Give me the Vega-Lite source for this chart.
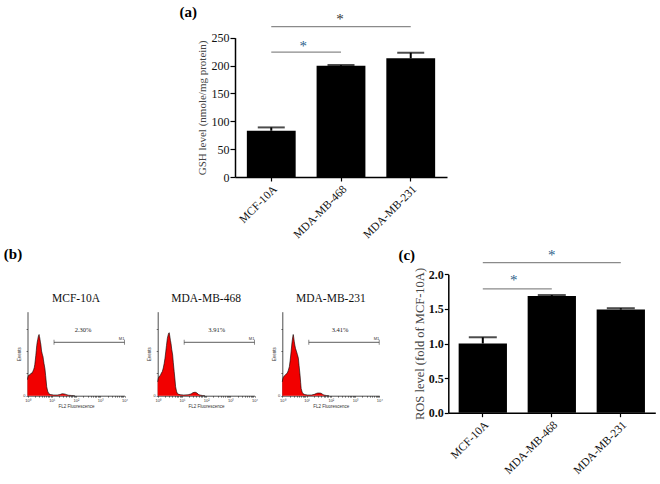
{
  "$schema": "https://vega.github.io/schema/vega-lite/v6.json",
  "width": 660,
  "height": 484,
  "padding": 0,
  "autosize": {"type": "none"},
  "background": "white",
  "config": {
    "view": {"stroke": null},
    "axis": {"grid": false, "domainColor": "#000", "tickColor": "#000", "labelFont": "Liberation Serif", "titleFont": "Liberation Serif", "labelColor": "#111", "titleColor": "#444", "titleFontWeight": "normal", "labelOverlap": false, "labelFlush": false, "labelBound": false},
    "text": {"font": "Liberation Serif"}
  },
  "datasets": {
    "gsh": [
      {"cell": "MCF-10A", "gsh": 83, "upper": 89},
      {"cell": "MDA-MB-468", "gsh": 199.5, "upper": 201},
      {"cell": "MDA-MB-231", "gsh": 213, "upper": 223}
    ],
    "gshSig": [
      {"from": "MCF-10A", "to": "MDA-MB-468", "level": 224, "star": "*", "starLevel": 236, "pair": "near"},
      {"from": "MCF-10A", "to": "MDA-MB-231", "level": 270, "star": "*", "starLevel": 282.7, "pair": "far"}
    ],
    "ros": [
      {"cell": "MCF-10A", "ros": 1.0, "upper": 1.09},
      {"cell": "MDA-MB-468", "ros": 1.685, "upper": 1.70},
      {"cell": "MDA-MB-231", "ros": 1.49, "upper": 1.51}
    ],
    "rosSig": [
      {"from": "MCF-10A", "to": "MDA-MB-468", "level": 1.788, "star": "*", "starLevel": 1.918, "pair": "near"},
      {"from": "MCF-10A", "to": "MDA-MB-231", "level": 2.168, "star": "*", "starLevel": 2.279, "pair": "far"}
    ],
    "h1": [
      {"fl2": 1, "events": 36}, {"fl2": 1.04, "events": 42}, {"fl2": 1.1, "events": 45}, {"fl2": 1.18, "events": 47}, {"fl2": 1.26, "events": 46}, {"fl2": 1.35, "events": 49}, {"fl2": 1.45, "events": 51}, {"fl2": 1.55, "events": 50}, {"fl2": 1.65, "events": 54}, {"fl2": 1.78, "events": 58}, {"fl2": 1.9, "events": 63}, {"fl2": 2.0, "events": 70}, {"fl2": 2.1, "events": 80}, {"fl2": 2.2, "events": 90}, {"fl2": 2.3, "events": 101}, {"fl2": 2.4, "events": 112}, {"fl2": 2.52, "events": 120}, {"fl2": 2.63, "events": 125}, {"fl2": 2.75, "events": 131}, {"fl2": 2.88, "events": 135}, {"fl2": 3.0, "events": 137}, {"fl2": 3.1, "events": 133}, {"fl2": 3.24, "events": 128}, {"fl2": 3.4, "events": 120}, {"fl2": 3.55, "events": 115}, {"fl2": 3.8, "events": 100}, {"fl2": 4.0, "events": 95}, {"fl2": 4.15, "events": 91}, {"fl2": 4.35, "events": 88}, {"fl2": 4.55, "events": 80}, {"fl2": 4.8, "events": 72}, {"fl2": 5.25, "events": 60}, {"fl2": 5.6, "events": 45}, {"fl2": 6.2, "events": 20}, {"fl2": 6.8, "events": 10}, {"fl2": 7.6, "events": 4.5}, {"fl2": 9, "events": 2.5}, {"fl2": 12, "events": 1.5}, {"fl2": 17, "events": 1.5}, {"fl2": 22, "events": 2.5}, {"fl2": 25, "events": 4}, {"fl2": 28, "events": 4.5}, {"fl2": 32, "events": 4}, {"fl2": 36, "events": 3.5}, {"fl2": 42, "events": 2}, {"fl2": 50, "events": 1}, {"fl2": 65, "events": 0.5}, {"fl2": 90, "events": 0}
    ],
    "h2": [
      {"fl2": 1, "events": 31}, {"fl2": 1.05, "events": 38}, {"fl2": 1.12, "events": 42}, {"fl2": 1.2, "events": 44}, {"fl2": 1.3, "events": 46}, {"fl2": 1.4, "events": 50}, {"fl2": 1.55, "events": 54}, {"fl2": 1.7, "events": 62}, {"fl2": 1.85, "events": 72}, {"fl2": 2.0, "events": 84}, {"fl2": 2.15, "events": 98}, {"fl2": 2.3, "events": 112}, {"fl2": 2.5, "events": 128}, {"fl2": 2.7, "events": 136}, {"fl2": 2.85, "events": 140}, {"fl2": 3.0, "events": 141}, {"fl2": 3.15, "events": 134}, {"fl2": 3.35, "events": 124}, {"fl2": 3.55, "events": 117}, {"fl2": 3.8, "events": 104}, {"fl2": 4.15, "events": 91}, {"fl2": 4.4, "events": 75}, {"fl2": 4.8, "events": 54}, {"fl2": 5.2, "events": 35}, {"fl2": 5.5, "events": 20}, {"fl2": 6.0, "events": 10}, {"fl2": 6.5, "events": 5}, {"fl2": 7.5, "events": 3}, {"fl2": 9, "events": 2}, {"fl2": 12, "events": 1.5}, {"fl2": 18, "events": 2}, {"fl2": 24, "events": 4}, {"fl2": 28, "events": 6.5}, {"fl2": 32, "events": 7.5}, {"fl2": 37, "events": 7.5}, {"fl2": 42, "events": 6}, {"fl2": 48, "events": 3}, {"fl2": 55, "events": 1.5}, {"fl2": 70, "events": 0.5}, {"fl2": 90, "events": 0}
    ],
    "h3": [
      {"fl2": 1, "events": 31}, {"fl2": 1.05, "events": 38}, {"fl2": 1.12, "events": 42}, {"fl2": 1.2, "events": 44}, {"fl2": 1.3, "events": 46}, {"fl2": 1.4, "events": 48}, {"fl2": 1.58, "events": 50}, {"fl2": 1.75, "events": 56}, {"fl2": 1.95, "events": 65}, {"fl2": 2.1, "events": 78}, {"fl2": 2.3, "events": 98}, {"fl2": 2.5, "events": 118}, {"fl2": 2.7, "events": 132}, {"fl2": 2.82, "events": 137}, {"fl2": 2.95, "events": 131}, {"fl2": 3.1, "events": 122}, {"fl2": 3.3, "events": 113}, {"fl2": 3.5, "events": 106}, {"fl2": 3.9, "events": 98}, {"fl2": 4.2, "events": 92}, {"fl2": 4.6, "events": 84}, {"fl2": 4.9, "events": 68}, {"fl2": 5.4, "events": 46}, {"fl2": 5.7, "events": 30}, {"fl2": 6.0, "events": 16}, {"fl2": 6.6, "events": 8}, {"fl2": 7.2, "events": 4.5}, {"fl2": 8.5, "events": 2.5}, {"fl2": 11, "events": 1.5}, {"fl2": 16, "events": 1.5}, {"fl2": 21, "events": 3}, {"fl2": 25, "events": 5}, {"fl2": 29, "events": 6}, {"fl2": 34, "events": 6}, {"fl2": 40, "events": 5.5}, {"fl2": 45, "events": 3.5}, {"fl2": 52, "events": 1.5}, {"fl2": 65, "events": 0.5}, {"fl2": 85, "events": 0}
    ],
    "g1": [{"cell": "MCF-10A", "gate": "M1", "pct": "2.30%", "start": 12.4, "end": 9900, "level": 119.5}],
    "g2": [{"cell": "MDA-MB-468", "gate": "M1", "pct": "3.91%", "start": 12.4, "end": 9900, "level": 119.5}],
    "g3": [{"cell": "MDA-MB-231", "gate": "M1", "pct": "3.41%", "start": 12.4, "end": 9900, "level": 119.5}]
  },
  "resolve": {"scale": {"x": "independent", "y": "independent"}, "axis": {"x": "independent", "y": "independent"}},
  "layer": [
    {
      "layer": [
        {
          "data": {"name": "gsh"},
          "mark": {"type": "bar", "color": "#000"},
          "encoding": {
            "x": {"field": "cell", "type": "nominal", "title": null,
              "scale": {"domain": ["MCF-10A", "MDA-MB-468", "MDA-MB-231"], "range": [235, 447], "paddingInner": 0.3, "paddingOuter": 0.17},
              "axis": {"orient": "bottom", "offset": -307, "labelAngle": -45, "labelFont": "Liberation Serif", "labelFontSize": 11.5, "labelColor": "#111", "tickSize": 4, "tickWidth": 1.2, "domainWidth": 1.5, "labelPadding": 2}},
            "y": {"field": "gsh", "type": "quantitative", "title": "GSH level (nmole/mg protein)",
              "scale": {"domain": [0, 250], "range": [177, 37.7], "nice": false},
              "axis": {"orient": "left", "offset": -235, "values": [0, 50, 100, 150, 200, 250], "labelFont": "Liberation Serif", "titleFont": "Liberation Serif", "labelFontSize": 12, "titleFontSize": 11, "tickSize": 5, "tickWidth": 1.2, "domainWidth": 1.5, "labelPadding": 1, "titlePadding": 4}}
          }
        },
        {
          "data": {"name": "gsh"},
          "mark": {"type": "rule", "color": "#000", "strokeWidth": 2},
          "encoding": {
            "x": {"field": "cell", "type": "nominal", "title": null},
            "y": {"field": "gsh", "type": "quantitative", "title": "GSH level (nmole/mg protein)"},
            "y2": {"field": "upper"}
          }
        },
        {
          "data": {"name": "gsh"},
          "mark": {"type": "tick", "color": "#000", "size": 27, "thickness": 2},
          "encoding": {
            "x": {"field": "cell", "type": "nominal", "title": null},
            "y": {"field": "upper", "type": "quantitative", "title": "GSH level (nmole/mg protein)"}
          }
        },
        {
          "data": {"name": "gshSig"},
          "mark": {"type": "rule", "color": "#8a8a8a", "strokeWidth": 1.2},
          "encoding": {
            "x": {"field": "from", "type": "nominal", "title": null},
            "x2": {"field": "to"},
            "y": {"field": "level", "type": "quantitative", "title": "GSH level (nmole/mg protein)"}
          }
        },
        {
          "data": {"name": "gshSig"},
          "transform": [{"filter": "datum.pair == 'near'"}],
          "mark": {"type": "text", "font": "Liberation Serif", "fontSize": 15, "baseline": "middle", "dx": 32, "color": "#2b5f8a"},
          "encoding": {
            "x": {"field": "from", "type": "nominal", "title": null},
            "y": {"field": "starLevel", "type": "quantitative", "title": "GSH level (nmole/mg protein)"},
            "text": {"field": "star"}
          }
        },
        {
          "data": {"name": "gshSig"},
          "transform": [{"filter": "datum.pair == 'far'"}],
          "mark": {"type": "text", "font": "Liberation Serif", "fontSize": 15, "baseline": "middle", "dx": -1, "color": "#333"},
          "encoding": {
            "x": {"datum": "MDA-MB-468", "type": "nominal"},
            "y": {"field": "starLevel", "type": "quantitative", "title": "GSH level (nmole/mg protein)"},
            "text": {"field": "star"}
          }
        },
        {
          "data": {"values": [{"panel": "(a)"}]},
          "mark": {"type": "text", "font": "Liberation Serif", "fontSize": 15, "fontWeight": "bold", "baseline": "middle", "dx": -83, "color": "#000"},
          "encoding": {
            "x": {"datum": "MCF-10A", "type": "nominal"},
            "y": {"datum": 296, "type": "quantitative"},
            "text": {"field": "panel"}
          }
        }
      ]
    },
    {
      "layer": [
        {
          "data": {"name": "h1"},
          "mark": {"type": "area", "color": "#f20000", "opacity": 1, "orient": "vertical", "line": {"color": "#000", "strokeWidth": 0.6}},
          "encoding": {
            "x": {"field": "fl2", "type": "quantitative", "title": "FL2 Fluorescence",
              "scale": {"type": "log", "domain": [1, 10000], "range": [27.5, 124.5], "nice": false},
              "axis": {"orient": "bottom", "offset": -88.3, "values": [1,2,3,4,5,6,7,8,9,10,20,30,40,50,60,70,80,90,100,200,300,400,500,600,700,800,900,1000,2000,3000,4000,5000,6000,7000,8000,9000,10000], "labelExpr": "datum.value == 1 ? '10⁰' : datum.value == 10 ? '10¹' : datum.value == 100 ? '10²' : datum.value == 1000 ? '10³' : datum.value == 10000 ? '10⁴' : ''", "labelFont": "Liberation Sans", "labelFontSize": 4, "labelPadding": 1, "labelColor": "#333", "titleFont": "Liberation Sans", "titleFontSize": 4.5, "titleColor": "#333", "titlePadding": 1, "tickSize": 1.5, "tickWidth": 0.5, "domainWidth": 0.7}},
            "y": {"field": "events", "type": "quantitative", "title": "Events", "stack": null,
              "scale": {"domain": [0, 188], "range": [395.7, 311.7], "nice": false},
              "axis": {"orient": "left", "offset": -27.5, "values": [0, 50, 100, 150], "labelExpr": "datum.value == 0 ? '0' : ''", "labelFont": "Liberation Sans", "labelFontSize": 4, "labelPadding": 1, "labelColor": "#333", "titleFont": "Liberation Sans", "titleFontSize": 4.5, "titleColor": "#333", "titlePadding": 1.5, "tickSize": 1.5, "tickWidth": 0.5, "domainWidth": 0.7}}
          }
        },
        {
          "data": {"name": "g1"},
          "mark": {"type": "rule", "color": "#333", "strokeWidth": 0.8},
          "encoding": {
            "x": {"field": "start", "type": "quantitative", "title": "FL2 Fluorescence"},
            "x2": {"field": "end"},
            "y": {"field": "level", "type": "quantitative", "title": "Events"}
          }
        },
        {
          "data": {"name": "g1"},
          "mark": {"type": "tick", "orient": "vertical", "color": "#333", "size": 5, "thickness": 0.8},
          "encoding": {
            "x": {"field": "start", "type": "quantitative", "title": "FL2 Fluorescence"},
            "y": {"field": "level", "type": "quantitative", "title": "Events"}
          }
        },
        {
          "data": {"name": "g1"},
          "mark": {"type": "tick", "orient": "vertical", "color": "#333", "size": 5, "thickness": 0.8},
          "encoding": {
            "x": {"field": "end", "type": "quantitative", "title": "FL2 Fluorescence"},
            "y": {"field": "level", "type": "quantitative", "title": "Events"}
          }
        },
        {
          "data": {"name": "g1"},
          "mark": {"type": "text", "font": "Liberation Serif", "fontSize": 6.5, "baseline": "middle", "dy": -12, "color": "#222"},
          "encoding": {
            "x": {"datum": 195, "type": "quantitative"},
            "y": {"field": "level", "type": "quantitative", "title": "Events"},
            "text": {"field": "pct"}
          }
        },
        {
          "data": {"name": "g1"},
          "mark": {"type": "text", "font": "Liberation Sans", "fontSize": 4, "align": "right", "baseline": "bottom", "dy": -1.5, "color": "#333"},
          "encoding": {
            "x": {"field": "end", "type": "quantitative", "title": "FL2 Fluorescence"},
            "y": {"field": "level", "type": "quantitative", "title": "Events"},
            "text": {"field": "gate"}
          }
        },
        {
          "data": {"name": "g1"},
          "mark": {"type": "text", "font": "Liberation Serif", "fontSize": 11.5, "baseline": "middle", "color": "#111"},
          "encoding": {
            "x": {"datum": 100, "type": "quantitative"},
            "y": {"datum": 216, "type": "quantitative"},
            "text": {"field": "cell"}
          }
        },
        {
          "data": {"values": [{"panel": "(b)"}]},
          "mark": {"type": "text", "font": "Liberation Serif", "fontSize": 15, "fontWeight": "bold", "baseline": "middle", "color": "#000"},
          "encoding": {
            "x": {"datum": 0.252, "type": "quantitative"},
            "y": {"datum": 317, "type": "quantitative"},
            "text": {"field": "panel"}
          }
        }
      ]
    },
    {
      "layer": [
        {
          "data": {"name": "h2"},
          "mark": {"type": "area", "color": "#f20000", "opacity": 1, "orient": "vertical", "line": {"color": "#000", "strokeWidth": 0.6}},
          "encoding": {
            "x": {"field": "fl2", "type": "quantitative", "title": "FL2 Fluorescence",
              "scale": {"type": "log", "domain": [1, 10000], "range": [157.7, 254.5], "nice": false},
              "axis": {"orient": "bottom", "offset": -88.3, "values": [1,2,3,4,5,6,7,8,9,10,20,30,40,50,60,70,80,90,100,200,300,400,500,600,700,800,900,1000,2000,3000,4000,5000,6000,7000,8000,9000,10000], "labelExpr": "datum.value == 1 ? '10⁰' : datum.value == 10 ? '10¹' : datum.value == 100 ? '10²' : datum.value == 1000 ? '10³' : datum.value == 10000 ? '10⁴' : ''", "labelFont": "Liberation Sans", "labelFontSize": 4, "labelPadding": 1, "labelColor": "#333", "titleFont": "Liberation Sans", "titleFontSize": 4.5, "titleColor": "#333", "titlePadding": 1, "tickSize": 1.5, "tickWidth": 0.5, "domainWidth": 0.7}},
            "y": {"field": "events", "type": "quantitative", "title": "Events", "stack": null,
              "scale": {"domain": [0, 188], "range": [395.7, 311.7], "nice": false},
              "axis": {"orient": "left", "offset": -157.7, "values": [0, 50, 100, 150], "labelExpr": "datum.value == 0 ? '0' : ''", "labelFont": "Liberation Sans", "labelFontSize": 4, "labelPadding": 1, "labelColor": "#333", "titleFont": "Liberation Sans", "titleFontSize": 4.5, "titleColor": "#333", "titlePadding": 1.5, "tickSize": 1.5, "tickWidth": 0.5, "domainWidth": 0.7}}
          }
        },
        {
          "data": {"name": "g2"},
          "mark": {"type": "rule", "color": "#333", "strokeWidth": 0.8},
          "encoding": {
            "x": {"field": "start", "type": "quantitative", "title": "FL2 Fluorescence"},
            "x2": {"field": "end"},
            "y": {"field": "level", "type": "quantitative", "title": "Events"}
          }
        },
        {
          "data": {"name": "g2"},
          "mark": {"type": "tick", "orient": "vertical", "color": "#333", "size": 5, "thickness": 0.8},
          "encoding": {
            "x": {"field": "start", "type": "quantitative", "title": "FL2 Fluorescence"},
            "y": {"field": "level", "type": "quantitative", "title": "Events"}
          }
        },
        {
          "data": {"name": "g2"},
          "mark": {"type": "tick", "orient": "vertical", "color": "#333", "size": 5, "thickness": 0.8},
          "encoding": {
            "x": {"field": "end", "type": "quantitative", "title": "FL2 Fluorescence"},
            "y": {"field": "level", "type": "quantitative", "title": "Events"}
          }
        },
        {
          "data": {"name": "g2"},
          "mark": {"type": "text", "font": "Liberation Serif", "fontSize": 6.5, "baseline": "middle", "dy": -12, "color": "#222"},
          "encoding": {
            "x": {"datum": 275, "type": "quantitative"},
            "y": {"field": "level", "type": "quantitative", "title": "Events"},
            "text": {"field": "pct"}
          }
        },
        {
          "data": {"name": "g2"},
          "mark": {"type": "text", "font": "Liberation Sans", "fontSize": 4, "align": "right", "baseline": "bottom", "dy": -1.5, "color": "#333"},
          "encoding": {
            "x": {"field": "end", "type": "quantitative", "title": "FL2 Fluorescence"},
            "y": {"field": "level", "type": "quantitative", "title": "Events"},
            "text": {"field": "gate"}
          }
        },
        {
          "data": {"name": "g2"},
          "mark": {"type": "text", "font": "Liberation Serif", "fontSize": 11.5, "baseline": "middle", "color": "#111"},
          "encoding": {
            "x": {"datum": 100, "type": "quantitative"},
            "y": {"datum": 216, "type": "quantitative"},
            "text": {"field": "cell"}
          }
        }
      ]
    },
    {
      "layer": [
        {
          "data": {"name": "h3"},
          "mark": {"type": "area", "color": "#f20000", "opacity": 1, "orient": "vertical", "line": {"color": "#000", "strokeWidth": 0.6}},
          "encoding": {
            "x": {"field": "fl2", "type": "quantitative", "title": "FL2 Fluorescence",
              "scale": {"type": "log", "domain": [1, 10000], "range": [282.3, 379.3], "nice": false},
              "axis": {"orient": "bottom", "offset": -88.3, "values": [1,2,3,4,5,6,7,8,9,10,20,30,40,50,60,70,80,90,100,200,300,400,500,600,700,800,900,1000,2000,3000,4000,5000,6000,7000,8000,9000,10000], "labelExpr": "datum.value == 1 ? '10⁰' : datum.value == 10 ? '10¹' : datum.value == 100 ? '10²' : datum.value == 1000 ? '10³' : datum.value == 10000 ? '10⁴' : ''", "labelFont": "Liberation Sans", "labelFontSize": 4, "labelPadding": 1, "labelColor": "#333", "titleFont": "Liberation Sans", "titleFontSize": 4.5, "titleColor": "#333", "titlePadding": 1, "tickSize": 1.5, "tickWidth": 0.5, "domainWidth": 0.7}},
            "y": {"field": "events", "type": "quantitative", "title": "Events", "stack": null,
              "scale": {"domain": [0, 188], "range": [395.7, 311.7], "nice": false},
              "axis": {"orient": "left", "offset": -282.3, "values": [0, 50, 100, 150], "labelExpr": "datum.value == 0 ? '0' : ''", "labelFont": "Liberation Sans", "labelFontSize": 4, "labelPadding": 1, "labelColor": "#333", "titleFont": "Liberation Sans", "titleFontSize": 4.5, "titleColor": "#333", "titlePadding": 1.5, "tickSize": 1.5, "tickWidth": 0.5, "domainWidth": 0.7}}
          }
        },
        {
          "data": {"name": "g3"},
          "mark": {"type": "rule", "color": "#333", "strokeWidth": 0.8},
          "encoding": {
            "x": {"field": "start", "type": "quantitative", "title": "FL2 Fluorescence"},
            "x2": {"field": "end"},
            "y": {"field": "level", "type": "quantitative", "title": "Events"}
          }
        },
        {
          "data": {"name": "g3"},
          "mark": {"type": "tick", "orient": "vertical", "color": "#333", "size": 5, "thickness": 0.8},
          "encoding": {
            "x": {"field": "start", "type": "quantitative", "title": "FL2 Fluorescence"},
            "y": {"field": "level", "type": "quantitative", "title": "Events"}
          }
        },
        {
          "data": {"name": "g3"},
          "mark": {"type": "tick", "orient": "vertical", "color": "#333", "size": 5, "thickness": 0.8},
          "encoding": {
            "x": {"field": "end", "type": "quantitative", "title": "FL2 Fluorescence"},
            "y": {"field": "level", "type": "quantitative", "title": "Events"}
          }
        },
        {
          "data": {"name": "g3"},
          "mark": {"type": "text", "font": "Liberation Serif", "fontSize": 6.5, "baseline": "middle", "dy": -12, "color": "#222"},
          "encoding": {
            "x": {"datum": 240, "type": "quantitative"},
            "y": {"field": "level", "type": "quantitative", "title": "Events"},
            "text": {"field": "pct"}
          }
        },
        {
          "data": {"name": "g3"},
          "mark": {"type": "text", "font": "Liberation Sans", "fontSize": 4, "align": "right", "baseline": "bottom", "dy": -1.5, "color": "#333"},
          "encoding": {
            "x": {"field": "end", "type": "quantitative", "title": "FL2 Fluorescence"},
            "y": {"field": "level", "type": "quantitative", "title": "Events"},
            "text": {"field": "gate"}
          }
        },
        {
          "data": {"name": "g3"},
          "mark": {"type": "text", "font": "Liberation Serif", "fontSize": 11.5, "baseline": "middle", "color": "#111"},
          "encoding": {
            "x": {"datum": 100, "type": "quantitative"},
            "y": {"datum": 216, "type": "quantitative"},
            "text": {"field": "cell"}
          }
        }
      ]
    },
    {
      "layer": [
        {
          "data": {"name": "ros"},
          "mark": {"type": "bar", "color": "#000"},
          "encoding": {
            "x": {"field": "cell", "type": "nominal", "title": null,
              "scale": {"domain": ["MCF-10A", "MDA-MB-468", "MDA-MB-231"], "range": [448.3, 655.3], "paddingInner": 0.3, "paddingOuter": 0.15},
              "axis": {"orient": "bottom", "offset": -71.3, "labelAngle": -45, "labelFont": "Liberation Serif", "labelFontSize": 11.5, "labelColor": "#111", "tickSize": 4, "tickWidth": 1.2, "domainWidth": 1.5, "labelPadding": 2}},
            "y": {"field": "ros", "type": "quantitative", "title": "ROS level (fold of MCF-10A)",
              "scale": {"domain": [0, 2], "range": [412.7, 274.3], "nice": false},
              "axis": {"orient": "left", "offset": -448.3, "values": [0, 0.5, 1, 1.5, 2], "format": ".1f", "labelFont": "Liberation Serif", "titleFont": "Liberation Serif", "labelFontSize": 12, "labelFontWeight": "bold", "titleFontSize": 12.5, "tickSize": 4, "tickWidth": 1.2, "domainWidth": 1.5, "labelPadding": 1, "titlePadding": 2}}
          }
        },
        {
          "data": {"name": "ros"},
          "mark": {"type": "rule", "color": "#000", "strokeWidth": 2},
          "encoding": {
            "x": {"field": "cell", "type": "nominal", "title": null},
            "y": {"field": "ros", "type": "quantitative", "title": "ROS level (fold of MCF-10A)"},
            "y2": {"field": "upper"}
          }
        },
        {
          "data": {"name": "ros"},
          "mark": {"type": "tick", "color": "#000", "size": 28, "thickness": 2},
          "encoding": {
            "x": {"field": "cell", "type": "nominal", "title": null},
            "y": {"field": "upper", "type": "quantitative", "title": "ROS level (fold of MCF-10A)"}
          }
        },
        {
          "data": {"name": "rosSig"},
          "mark": {"type": "rule", "color": "#8a8a8a", "strokeWidth": 1.2},
          "encoding": {
            "x": {"field": "from", "type": "nominal", "title": null},
            "x2": {"field": "to"},
            "y": {"field": "level", "type": "quantitative", "title": "ROS level (fold of MCF-10A)"}
          }
        },
        {
          "data": {"name": "rosSig"},
          "transform": [{"filter": "datum.pair == 'near'"}],
          "mark": {"type": "text", "font": "Liberation Serif", "fontSize": 15, "baseline": "middle", "dx": 31, "color": "#2b5f8a"},
          "encoding": {
            "x": {"field": "from", "type": "nominal", "title": null},
            "y": {"field": "starLevel", "type": "quantitative", "title": "ROS level (fold of MCF-10A)"},
            "text": {"field": "star"}
          }
        },
        {
          "data": {"name": "rosSig"},
          "transform": [{"filter": "datum.pair == 'far'"}],
          "mark": {"type": "text", "font": "Liberation Serif", "fontSize": 15, "baseline": "middle", "dx": 0, "color": "#2b5f8a"},
          "encoding": {
            "x": {"datum": "MDA-MB-468", "type": "nominal"},
            "y": {"field": "starLevel", "type": "quantitative", "title": "ROS level (fold of MCF-10A)"},
            "text": {"field": "star"}
          }
        },
        {
          "data": {"values": [{"panel": "(c)"}]},
          "mark": {"type": "text", "font": "Liberation Serif", "fontSize": 15, "fontWeight": "bold", "baseline": "middle", "dx": -76, "color": "#000"},
          "encoding": {
            "x": {"datum": "MCF-10A", "type": "nominal"},
            "y": {"datum": 2.28, "type": "quantitative"},
            "text": {"field": "panel"}
          }
        }
      ]
    }
  ]
}
